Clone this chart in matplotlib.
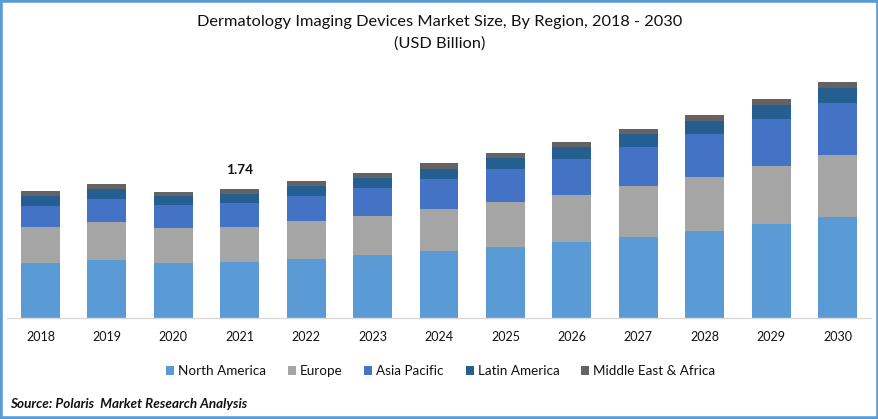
import numpy as np
import matplotlib
matplotlib.use("Agg")
import matplotlib.pyplot as plt
from matplotlib.patches import Rectangle

plt.rcParams['font.family'] = ['Lato', 'DejaVu Sans']

years = [2018, 2019, 2020, 2021, 2022, 2023, 2024, 2025, 2026, 2027, 2028, 2029, 2030]

# USD billion (2021 total is labelled 1.74)
north_america = [0.742, 0.782, 0.742, 0.755, 0.796, 0.850, 0.904, 0.958, 1.025, 1.093, 1.174, 1.268, 1.362]
europe = [0.486, 0.513, 0.472, 0.472, 0.513, 0.526, 0.567, 0.607, 0.634, 0.688, 0.728, 0.782, 0.836]
asia_pacific = [0.283, 0.310, 0.310, 0.324, 0.337, 0.378, 0.405, 0.445, 0.486, 0.526, 0.580, 0.634, 0.701]
latin_america = [0.135, 0.135, 0.121, 0.121, 0.135, 0.135, 0.135, 0.148, 0.162, 0.175, 0.175, 0.189, 0.202]
middle_east = [0.067, 0.067, 0.054, 0.067, 0.067, 0.067, 0.081, 0.067, 0.067, 0.067, 0.081, 0.081, 0.081]

series = [north_america, europe, asia_pacific, latin_america, middle_east]
names = ['North America', 'Europe', 'Asia Pacific', 'Latin America', 'Middle East & Africa']
colors = ['#5B9BD5', '#A5A5A5', '#4472C4', '#255E91', '#636363']

W, H = 879, 419
fig = plt.figure(figsize=(W / 100, H / 100), dpi=100)
fig.patch.set_facecolor('white')

ax = fig.add_axes([7.3 / W, 1 - 318 / H, 863.4 / W, 258 / H])
x = np.arange(len(years))
bottom = np.zeros(len(years))
for vals, name, col in zip(series, names, colors):
    ax.bar(x, vals, 0.587, bottom=bottom, color=col, label=name)
    bottom += np.array(vals)

ax.set_xlim(-0.5, 12.5)
ax.set_ylim(0, 3.48)
ax.set_yticks([])
ax.set_xticks(x, [str(y) for y in years], fontsize=9, color='#111111')
ax.tick_params(axis='x', length=0, pad=9.5)
for s in ['top', 'left', 'right']:
    ax.spines[s].set_visible(False)
ax.spines['bottom'].set_color('#D9D9D9')
ax.spines['bottom'].set_linewidth(1)

i = years.index(2021)
ax.annotate('1.74', (x[i], bottom[i]), xytext=(0, 9.5), textcoords='offset points',
            ha='center', va='bottom', fontsize=9.8, fontweight='bold', color='#111111')

fig.text(0.5 + 0.5 / W, 1 - 22 / H, 'Dermatology Imaging Devices Market Size, By Region, 2018 - 2030',
         ha='center', va='center', fontsize=11.75, color='#111111')
fig.text(0.5 + 0.5 / W, 1 - 44 / H, '(USD Billion)', ha='center', va='center', fontsize=11.75, color='#111111')

ax.legend(loc='center', bbox_to_anchor=(0.502, (318 - 371) / 258), ncol=5, frameon=False,
          fontsize=9.7, handlelength=0.6, handleheight=0.6, handletextpad=0.3, columnspacing=1.6,
          labelcolor='#111111')

fig.text(10 / W, 1 - 404 / H, 'Source: Polaris  Market Research Analysis', ha='left', va='center',
         fontsize=9.7, fontweight='bold', fontstyle='italic', color='#111111')

# blue frame round the picture
fig.add_artist(Rectangle((0, 0), 1, 1, transform=fig.transFigure, fill=False,
                         edgecolor='#5B9BD5', linewidth=4))

fig.savefig('out.png', dpi=100)
